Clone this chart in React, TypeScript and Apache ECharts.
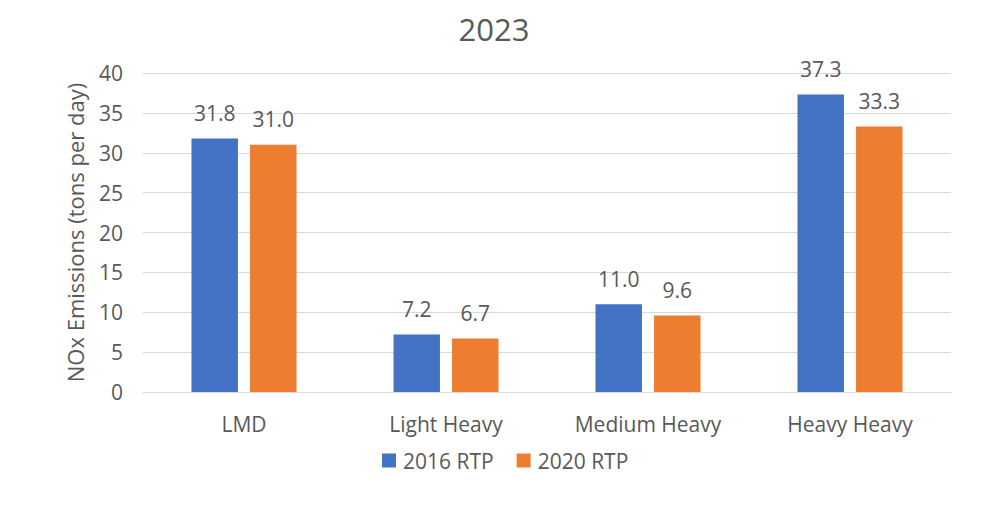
import React, { useEffect, useRef } from "react";
import * as echarts from "echarts";

const categories = ["LMD", "Light Heavy", "Medium Heavy", "Heavy Heavy"];
const rtp2016 = [31.8, 7.2, 11.0, 37.3];
const rtp2020 = [31.0, 6.7, 9.6, 33.3];
const seriesNames = ["2016 RTP", "2020 RTP"];
const yTicks = { min: 0, max: 40, interval: 5 };

const FONT = "'Open Sans', 'Liberation Sans', sans-serif";
const TXT = "#595959";

export default function App() {
  const ref = useRef<HTMLDivElement>(null);
  useEffect(() => {
    if (!ref.current) return;
    const chart = echarts.init(ref.current, undefined, { renderer: "svg" });
    const label = {
      show: true,
      position: "top",
      distance: 15,
      color: TXT,
      fontSize: 21,
      fontFamily: FONT,
      formatter: (p: any) => Number(p.value).toFixed(1),
    };
    chart.setOption({
      animation: false,
      backgroundColor: "#ffffff",
      title: {
        text: "2023",
        left: "center",
        top: 8,
        textStyle: { color: TXT, fontSize: 31, fontWeight: "normal", fontFamily: FONT },
      },
      legend: {
        data: seriesNames,
        bottom: 32,
        left: 377,
        itemWidth: 14,
        itemHeight: 14,
        itemGap: 23,
        icon: "rect",
        textStyle: { color: TXT, fontSize: 21, fontFamily: FONT, padding: [0, 0, 0, 2] },
      },
      grid: { left: 143, right: 37, top: 73, bottom: 116 },
      xAxis: {
        type: "category",
        data: categories,
        axisTick: { show: false },
        axisLine: { lineStyle: { color: "#d9d9d9" } },
        axisLabel: { color: TXT, fontSize: 21, fontFamily: FONT, margin: 21 },
      },
      yAxis: {
        type: "value",
        min: yTicks.min,
        max: yTicks.max,
        interval: yTicks.interval,
        name: "NOx Emissions (tons per day)",
        nameLocation: "middle",
        nameGap: 57,
        nameTextStyle: { color: TXT, fontSize: 22, fontFamily: FONT },
        axisLine: { show: false },
        axisTick: { show: false },
        axisLabel: { color: TXT, fontSize: 21, fontFamily: FONT, margin: 20 },
        splitLine: { lineStyle: { color: "#d9d9d9" } },
      },
      series: [
        {
          name: seriesNames[0],
          type: "bar",
          data: rtp2016,
          itemStyle: { color: "#4472C4" },
          barGap: "26%",
          barCategoryGap: "48%",
          label,
        },
        {
          name: seriesNames[1],
          type: "bar",
          data: rtp2020,
          itemStyle: { color: "#ED7D31" },
          barGap: "26%",
          barCategoryGap: "48%",
          label,
        },
      ],
    });
    return () => chart.dispose();
  }, []);
  return (
    <div
      ref={ref}
      style={{ position: "absolute", left: 0, top: 0, width: 988, height: 508 }}
    />
  );
}
